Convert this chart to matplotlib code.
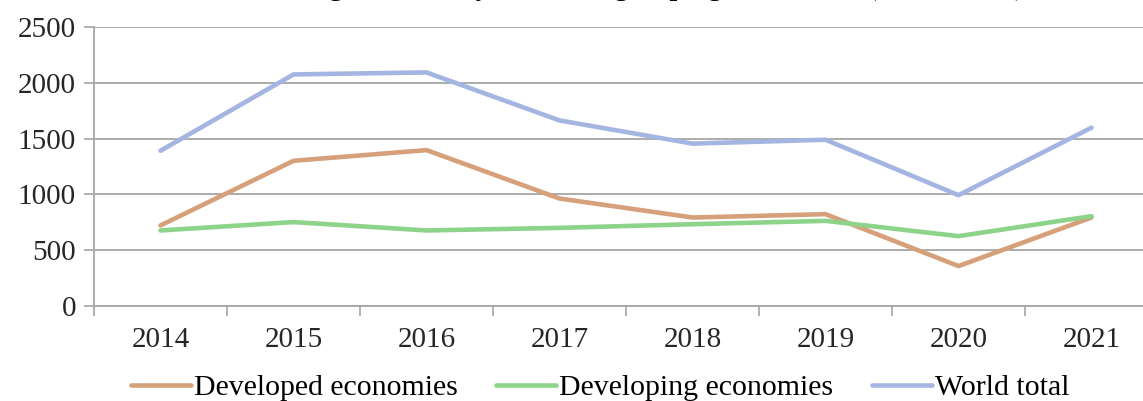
import matplotlib.pyplot as plt
from matplotlib.ticker import FixedLocator

years = ["2014", "2015", "2016", "2017", "2018", "2019", "2020", "2021"]
developed = [722, 1301, 1397, 963, 793, 823, 358, 793]
developing = [677, 752, 677, 700, 733, 763, 626, 805]
world_total = [1391, 2075, 2093, 1663, 1455, 1490, 993, 1598]
y_ticks = [0, 500, 1000, 1500, 2000, 2500]

plt.rcParams['font.family'] = ['Liberation Serif', 'DejaVu Serif']

fig = plt.figure(figsize=(11.43, 4.01), dpi=100)
ax = fig.add_axes([94 / 1143, 1 - 306 / 401, 1064 / 1143, 279 / 401])

grid_col = '#A6A6A6'
x = range(len(years))
series = [
    (developed, '#D6A07A', 'Developed economies'),
    (developing, '#8DD38A', 'Developing economies'),
    (world_total, '#A5B5E1', 'World total'),
]
for vals, col, name in series:
    ax.plot(x, vals, color=col, lw=3.3, label=name,
            solid_joinstyle='round', solid_capstyle='round', zorder=3)

ax.set_xlim(-0.5, len(years) - 0.5)
ax.set_ylim(0, 2500)
ax.set_yticks(y_ticks)
ax.set_yticklabels([str(v) for v in y_ticks])
ax.set_xticks(list(x))
ax.set_xticklabels(years)
# category boundaries carry the tick marks
ax.xaxis.set_minor_locator(FixedLocator([i - 0.5 for i in range(len(years) + 1)]))

ax.tick_params(axis='x', which='major', length=0, pad=15, labelsize=21, labelcolor='#262626')
ax.tick_params(axis='x', which='minor', length=7, width=1.2, color=grid_col)
ax.tick_params(axis='y', length=7, width=1.2, color=grid_col, pad=6,
               labelsize=21, labelcolor='#262626')

ax.grid(axis='y', color=grid_col, lw=1.3, zorder=0)
for s in ['top', 'right']:
    ax.spines[s].set_visible(False)
for s in ['left', 'bottom']:
    ax.spines[s].set_color(grid_col)
    ax.spines[s].set_linewidth(1.3)

fig.legend(loc='center', bbox_to_anchor=(600 / 1143, 1 - 388 / 401), ncol=3,
           frameon=False, fontsize=21.5, handlelength=2.0, handletextpad=0.1,
           columnspacing=1.3, borderaxespad=0, borderpad=0)

fig.text(1024 / 1143, 1 + 5 / 401,
         'FDI inflows, global and by economic grouping, 2014–2021 (billion USD)',
         ha='right', va='baseline', fontsize=20, fontweight='bold')

fig.savefig('out.png', dpi=100)
